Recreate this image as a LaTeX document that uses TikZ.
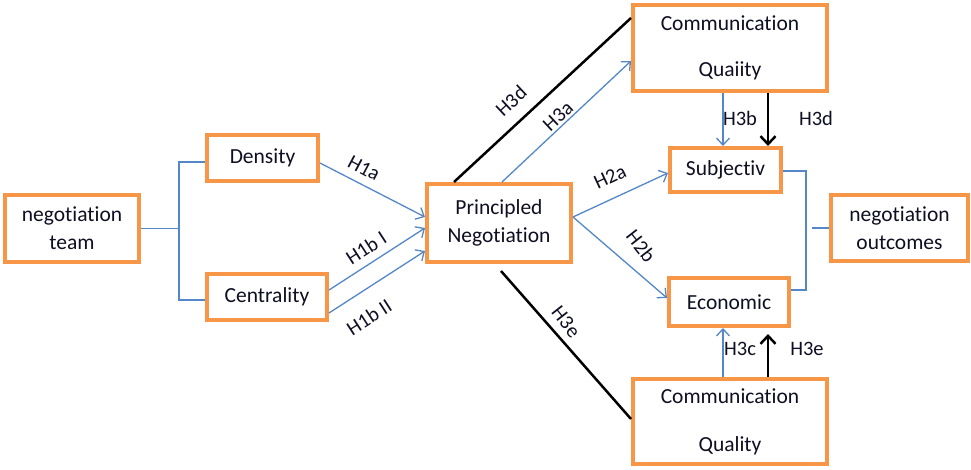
\documentclass[tikz,border=0pt]{standalone}
\usepackage{fontspec}
\setmainfont{Carlito}[Ligatures=NoCommon]
\usetikzlibrary{arrows.meta,calc}
\definecolor{boxorange}{RGB}{247,150,70}
\definecolor{lineblue}{RGB}{84,135,200}
\definecolor{txt}{RGB}{15,15,35}
\begin{document}
\begin{tikzpicture}[x=1pt,y=-1pt,
  font=\fontsize{21.5}{28}\selectfont, text=txt,
  box/.style={draw=boxorange,line width=4pt,fill=white,align=center,inner sep=0pt,
     minimum width=#1},
  bl/.style={draw=lineblue,line width=1.3pt},
  blarr/.style={bl,-{Straight Barb[length=7pt,width=13pt,line width=1.3pt]}},
  blk/.style={draw=black,line width=2.5pt},
  blkarr/.style={blk,-{Straight Barb[length=8pt,width=15pt,line width=2.5pt]}},
  lab/.style={inner sep=0pt,font=\fontsize{20.5}{24}\selectfont}]
\useasboundingbox (0,0) rectangle (971,470);
\fill[white] (0,0) rectangle (971,470);

% nodes
\node[box=134pt,minimum height=67pt] (team) at (72,228.5) {negotiation\\team};
\node[box=111pt,minimum height=46pt] (dens) at (262.5,158) {Density};
\node[box=120pt,minimum height=46pt] (cent) at (267,297) {Centrality};
\node[box=144pt,minimum height=78pt] (pn) at (499,223) {Principled\\Negotiation};
\node[box=194pt,minimum height=86pt] (cqt) at (730,48) {Communication\\[18pt]Quaiity};
\node[box=111pt,minimum height=44pt] (subj) at (725.5,170) {Subjectiv};
\node[box=120pt,minimum height=48pt] (econ) at (729,302) {Economic};
\node[box=194pt,minimum height=85pt] (cqb) at (730,421.5) {Communication\\[20pt]Quality};
\node[box=137pt,minimum height=66pt] (out) at (899.5,228) {negotiation\\outcomes};

% left tree
\draw[bl] (team.east) -- ++(38,0) coordinate (j1);
\draw[bl] ([yshift=-4pt]dens.west) -| (j1) |- ([yshift=-3pt]cent.west);

% H1 arrows
\draw[blarr] ([yshift=-5pt]dens.east) -- ([yshift=6pt]pn.west);
\draw[blarr] ([yshift=7pt]cent.east) -- ([yshift=-5pt]pn.west);
\draw[blarr] ([yshift=-16pt]cent.east) -- ([yshift=-28pt]pn.west);

% H3d, H3a
\draw[blk] ([xshift=-45pt]pn.north) -- ([yshift=30pt]cqt.west);
\draw[blarr] ([xshift=3pt]pn.north) -- ([yshift=-13pt]cqt.west);

% H2a, H2b
\draw[blarr] ([yshift=6pt]pn.east) -- ([yshift=-3pt]subj.west);
\draw[blarr] ([yshift=6pt]pn.east) -- ([yshift=4pt]econ.west);

% H3e
\draw[blk] ([xshift=2pt,yshift=-7pt]pn.south) -- ([yshift=2.5pt]cqb.west);

% vertical arrows
\draw[blarr] ([xshift=-7pt]cqt.south) -- ([xshift=-7pt]cqt.south |- subj.north);
\draw[blkarr] ([xshift=38pt]cqt.south) -- ([xshift=38pt]cqt.south |- subj.north);
\draw[blarr] ([xshift=-7pt]cqb.north) -- ([xshift=-7pt]cqb.north |- econ.south);
\draw[blkarr] ([xshift=38pt]cqb.north) -- ([xshift=38pt,yshift=-6pt]cqb.north |- econ.south);

% right tree
\draw[bl] ([yshift=-1pt]subj.east) -- ++(23,0) coordinate (j2) |- ([yshift=12pt]econ.east);
\draw[bl] ([xshift=6pt]j2 |- out.west) -- (out.west);

% labels
\node[lab,rotate=-28] at (364,168) {H1a};
\node[lab,rotate=33] at (366,248) {H1b I};
\node[lab,rotate=33] at (369,317) {H1b II};
\node[lab,rotate=43] at (511,101) {H3d};
\node[lab,rotate=43] at (558,116) {H3a};
\node[lab,rotate=25] at (610,177) {H2a};
\node[lab,rotate=-52] at (641,246) {H2b};
\node[lab,rotate=-52] at (566,322) {H3e};
\node[lab] at (740,118) {H3b};
\node[lab] at (816,118) {H3d};
\node[lab] at (740,349) {H3c};
\node[lab] at (807,349) {H3e};
\end{tikzpicture}
\end{document}
